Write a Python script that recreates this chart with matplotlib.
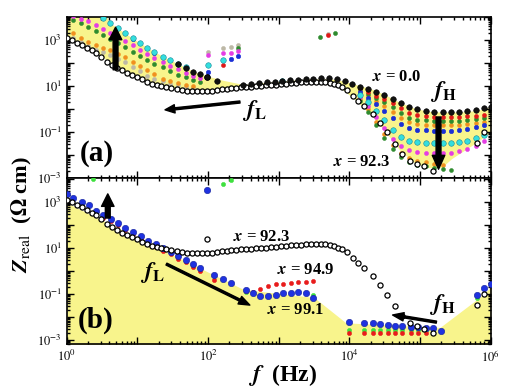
import numpy as np
import matplotlib
matplotlib.use('Agg')
import matplotlib.pyplot as plt
from matplotlib.ticker import LogLocator, FuncFormatter, NullFormatter

plt.rcParams['font.family'] = ['Liberation Serif', 'DejaVu Serif']
plt.rcParams['mathtext.fontset'] = 'stix'

# all values are log10(f / Hz) and log10(Z_real / Ohm cm)

# x = 92.3 (open circles, same in both panels)
lf_open = [0.00, 0.07, 0.14, 0.21, 0.28, 0.35, 0.42, 0.49, 0.57, 0.64, 0.71, 0.78, 0.85, 0.92, 0.99,
           1.06, 1.13, 1.20, 1.27, 1.34, 1.41, 1.48, 1.56, 1.63, 1.70, 1.77, 1.84, 1.91, 1.98, 2.05,
           2.12, 2.19, 2.26, 2.33, 2.40, 2.47, 2.54, 2.61, 2.68, 2.75, 2.82, 2.89, 2.96, 3.03, 3.10,
           3.17, 3.24, 3.31, 3.38, 3.45, 3.52, 3.59, 3.66, 3.72, 3.78, 3.84, 3.90, 3.96, 4.05, 4.12,
           4.21, 4.33, 4.43, 4.53, 4.64, 4.74, 4.85, 4.95, 5.05, 5.18, 5.81, 5.91, 1.99]
lz_open = [3.09, 2.98, 2.87, 2.76, 2.65, 2.54, 2.43, 2.24, 2.04, 1.91, 1.78, 1.67, 1.57, 1.48, 1.39,
           1.28, 1.17, 1.10, 1.04, 1.00, 0.96, 0.91, 0.87, 0.82, 0.78, 0.77, 0.77, 0.77, 0.78, 0.80,
           0.83, 0.85, 0.88, 0.91, 0.92, 0.94, 0.95, 0.96, 0.98, 1.00, 1.02, 1.04, 1.06, 1.08, 1.10,
           1.12, 1.13, 1.15, 1.16, 1.17, 1.18, 1.18, 1.17, 1.13, 1.08, 1.02, 0.94, 0.83, 0.58, 0.36,
           0.13, -0.22, -0.61, -1.02, -1.52, -1.96, -2.26, -2.40, -2.50, -2.70, -1.48, -1.00, 1.37]

# panel (a), x = 0.0 (black spheres)
lf_black = [1.57, 1.68, 1.78, 1.88, 1.99, 2.12,
            2.50, 2.61, 2.72, 2.83, 2.94, 3.05, 3.16, 3.27, 3.38, 3.49, 3.60, 3.71,
            3.82, 3.93, 4.04, 4.15, 4.26, 4.38, 4.49, 4.61, 4.73, 4.84, 4.96, 5.08,
            5.20, 5.32, 5.43, 5.55, 5.67, 5.79, 5.91, 6.00]
lz_black = [1.96, 1.78, 1.61, 1.52, 1.40, 1.22,
            1.04, 1.08, 1.12, 1.15, 1.18, 1.21, 1.24, 1.27, 1.30, 1.32, 1.34, 1.33,
            1.28, 1.20, 1.08, 0.97, 0.86, 0.74, 0.60, 0.42, 0.24, 0.07, -0.02, -0.08,
            -0.12, -0.13, -0.13, -0.13, -0.11, -0.06, 0.02, 0.08]

# panel (a), intermediate compositions
lf_hf = [4.15, 4.26, 4.38, 4.49, 4.61, 4.73, 4.84, 4.96, 5.08, 5.20, 5.32, 5.43, 5.55, 5.67, 5.79, 5.91]

lf_cyan = [0.51, 0.61, 0.72, 0.82, 0.93, 1.03, 1.14, 1.24, 1.36, 1.46, 1.57, 1.68, 2.00, 2.21, 3.05] + lf_hf
lz_cyan = [3.95, 3.74, 3.52, 3.30, 3.09, 2.87, 2.65, 2.47, 2.27, 2.12, 1.97, 1.80, 1.91, 2.13, 1.20,
           0.62, 0.30, -0.08, -0.50, -0.90, -1.20, -1.38, -1.45, -1.48, -1.49, -1.49, -1.48, -1.45, -1.38, -1.28, -1.12]

lf_blue = [0.93, 1.24, 2.00, 2.32, 2.42] + lf_hf
lz_blue = [3.04, 2.42, 1.61, 2.17, 2.30,
           0.72, 0.46, 0.20, -0.10, -0.40, -0.66, -0.82, -0.90, -0.93, -0.95, -0.95, -0.95, -0.93, -0.88, -0.80, -0.70]

lf_magenta = [0.09, 0.20, 0.30, 0.41, 0.51, 0.61, 0.72, 0.82, 0.93, 1.03, 1.14, 1.24, 1.36, 1.46, 1.57,
              1.68, 1.78, 1.88, 2.00, 2.21, 2.32, 2.42] + lf_hf
lz_magenta = [4.05, 3.92, 3.80, 3.65, 3.48, 3.32, 3.14, 2.95, 2.76, 2.58, 2.38, 2.20, 2.02, 1.86, 1.72,
              1.58, 1.45, 1.36, 2.35, 2.43, 2.43, 2.52,
              0.52, 0.14, -0.35, -0.85, -1.30, -1.62, -1.80, -1.88, -1.91, -1.92, -1.92, -1.90, -1.84, -1.74, -1.60, -1.40]

lf_green = [0.09, 0.20, 0.30, 0.41, 0.51, 0.61, 0.72, 0.82, 0.93, 1.03, 1.14, 1.24, 1.36, 1.46, 1.57,
            1.68, 1.78, 1.88, 2.42, 2.72, 2.94, 3.38, 3.58, 3.79] + lf_hf
lz_green = [3.87, 3.72, 3.57, 3.40, 3.22, 3.05, 2.87, 2.68, 2.48, 2.30, 2.12, 1.97, 1.80, 1.65, 1.48,
            1.37, 1.26, 1.17, 2.65, 1.11, 1.17, 1.29, 3.13, 3.30,
            0.85, 0.66, 0.48, 0.28, 0.08, -0.18, -0.38, -0.46, -0.50, -0.52, -0.52, -0.52, -0.51, -0.49, -0.45, -0.40]

lf_orange = [0.09, 0.20, 0.30, 0.41, 0.51, 0.61, 0.72, 0.82, 0.93, 1.03, 1.14, 1.24, 1.36, 1.46, 1.57,
             1.68, 1.78] + lf_hf
lz_orange = [3.30, 3.08, 2.89, 2.76, 2.66, 2.57, 2.40, 2.25, 2.05, 1.85, 1.67, 1.50, 1.32, 1.20, 1.12,
             1.05, 1.00,
             0.80, 0.58, 0.36, 0.12, -0.12, -0.40, -0.58, -0.65, -0.68, -0.70, -0.70, -0.70, -0.69, -0.66, -0.62, -0.56]

lf_gray = [0.09, 0.20, 0.30, 0.41, 0.51, 0.61, 0.72, 0.82, 0.93, 1.03, 1.14, 1.24, 1.36, 1.46, 1.57,
           1.68, 1.78, 2.00, 2.21, 2.32, 2.42, 2.61, 2.83, 3.27, 3.49, 3.69]
lz_gray = [3.09, 2.92, 2.72, 2.58, 2.46, 2.35, 2.18, 2.02, 1.82, 1.63, 1.45, 1.30, 1.20, 1.10, 1.03,
           0.97, 0.93, 2.48, 2.65, 2.70, 2.78, 1.06, 1.13, 1.25, 1.30, 3.26]

lf_red = [2.21, 3.69] + lf_hf
lz_red = [1.91, 3.22,
          0.90, 0.74, 0.58, 0.42, 0.25, 0.02, -0.18, -0.27, -0.31, -0.33, -0.33, -0.33, -0.33, -0.32, -0.29, -0.25]

lf_orange2 = [4.15, 4.26, 4.38, 4.49, 4.61, 4.73, 4.84, 4.96, 5.08, 5.20, 5.32]
lz_orange2 = [0.42, 0.00, -0.55, -1.10, -1.55, -1.90, -2.12, -2.25, -2.32, -2.38, -2.42]
lf_green2 = [4.15, 4.26, 4.38, 4.49, 4.61, 4.73, 4.84, 4.96, 5.08, 5.20, 5.32, 5.43]
lz_green2 = [0.34, -0.12, -0.70, -1.25, -1.72, -2.08, -2.30, -2.42, -2.50, -2.55, -2.60, -2.65]

# panel (a) shaded region
lf_fill_a = [0.00, 0.50, 0.60, 0.80, 1.00, 1.20, 1.40, 1.60, 1.80, 2.00, 2.20, 2.50, 2.80, 3.10, 3.40,
             3.75, 3.90, 4.10, 4.30, 4.50, 4.70, 4.90, 5.10, 5.30, 5.45, 5.60, 5.80, 6.00]
lz_fill_a_top = [4.5, 4.5, 3.76, 3.34, 2.93, 2.55, 2.22, 1.92, 1.62, 1.42, 1.25, 1.06, 1.14, 1.22, 1.30,
                 1.30, 1.22, 1.05, 0.88, 0.62, 0.30, 0.05, -0.10, -0.14, -0.14, -0.13, -0.07, 0.08]
lz_fill_a_bot = [3.09, 2.30, 2.00, 1.65, 1.38, 1.10, 0.97, 0.85, 0.77, 0.78, 0.85, 0.95, 1.02, 1.11, 1.16,
                 1.15, 0.85, 0.35, -0.25, -0.95, -1.75, -2.30, -2.55, -2.55, -2.15, -1.85, -1.45, -1.00]

# panel (b), x = 99.1 (blue), x = 94.9 (red), green
lf_b_blue = [0.00, 0.09, 0.21, 0.31, 0.42, 0.51, 0.62, 0.72, 0.83, 0.93, 1.05, 1.15, 1.26, 1.36, 1.47,
             1.57, 1.68, 1.78, 1.88, 2.09, 2.21, 2.32, 2.53, 2.63, 2.74, 2.85, 2.96, 3.06, 3.17, 3.27,
             3.38, 3.48, 4.00, 4.21, 4.33, 4.43, 4.54, 4.64, 4.75, 4.87, 4.97, 5.08, 5.18, 5.29, 5.80,
             5.91, 6.00, 1.99]
lz_b_blue = [3.35, 3.17, 3.00, 2.87, 2.61, 2.43, 2.26, 2.09, 1.87, 1.70, 1.52, 1.30, 1.17, 1.00, 0.83,
             0.65, 0.48, 0.30, 0.13, -0.17, -0.35, -0.52, -0.83, -0.96, -1.09, -1.09, -1.04, -0.96, -0.96, -0.91,
             -0.96, -1.17, -2.22, -2.26, -2.26, -2.30, -2.35, -2.39, -2.39, -2.43, -2.43, -2.48, -2.48, -2.61, -1.04,
             -0.74, -0.57, 3.52]

lf_b_red = [0.42, 0.51, 0.62, 0.72, 0.83, 0.93, 1.05, 1.15, 1.26, 1.36, 1.47, 1.57, 1.68, 1.78, 1.88,
            2.09, 2.53, 2.63, 2.74, 2.85, 2.96, 3.06, 3.17, 3.27, 3.38, 3.48,
            4.00, 4.21, 4.33, 4.43, 4.54, 4.64, 4.75, 4.87, 4.97, 5.08]
lz_b_red = [2.50, 2.32, 2.15, 1.98, 1.76, 1.59, 1.41, 1.19, 1.06, 0.89, 0.72, 0.54, 0.37, 0.19, 0.02,
            -0.39, -0.87, -0.90, -0.80, -0.65, -0.57, -0.55, -0.52, -0.49, -0.47, -0.43,
            -2.70, -2.70, -2.70, -2.70, -2.70, -2.70, -2.70, -2.70, -2.70, -2.70]

lf_b_green = [0.37, 2.21, 2.32, 2.53, 3.48, 4.00, 4.21, 4.33, 4.43, 4.54, 4.64, 4.75, 4.87, 4.97, 5.08,
              5.18, 5.80]
lz_b_green = [4.00, 3.78, 3.96, -0.92, -1.05, -2.57, -2.57, -2.57, -2.57, -2.57, -2.57, -2.57, -2.57, -2.57, -2.57,
              -2.60, -1.17]

lf_fill_b = [0.00, 2.50, 3.50, 3.95, 5.28, 5.84, 6.00]
lz_fill_b = [2.96, -0.80, -1.15, -2.25, -2.45, -1.15, -0.70]

yellow = '#f8f48c'


def p(v):
    return 10 ** np.array(v, dtype=float)


def dots(ax, lf, lz, color, size, edge=None, z=3):
    ax.plot(p(lf), p(lz), 'o', ls='none', ms=size, mfc=color,
            mec=edge if edge else color, mew=0.4, zorder=z)


def decade_label(parity, lo, hi):
    def f(v, pos):
        e = int(round(np.log10(v)))
        if e < lo or e > hi or e % 2 != parity:
            return ''
        return r'$10^{%d}$' % e
    return FuncFormatter(f)


def style(ax, ylo, yhi):
    ax.set_xscale('log')
    ax.set_yscale('log')
    ax.set_xlim(1, 1e6)
    ax.set_ylim(ylo, yhi)
    ax.xaxis.set_major_locator(LogLocator(base=10, numticks=20))
    ax.xaxis.set_minor_locator(LogLocator(base=10, subs=np.arange(2, 10), numticks=20))
    ax.yaxis.set_major_locator(LogLocator(base=10, numticks=20))
    ax.yaxis.set_minor_locator(LogLocator(base=10, subs=np.arange(2, 10), numticks=20))
    ax.xaxis.set_minor_formatter(NullFormatter())
    ax.yaxis.set_minor_formatter(NullFormatter())
    ax.yaxis.set_major_formatter(decade_label(1, -3, 3))
    ax.tick_params(which='both', direction='in', top=True, right=True, labelsize=9, width=1)
    ax.tick_params(which='major', length=5)
    ax.tick_params(which='minor', length=2.5)
    for s in ax.spines.values():
        s.set_linewidth(1.2)


fig = plt.figure(figsize=(5.06, 3.92), dpi=100)
ax1 = fig.add_axes([0.132, 0.546, 0.838, 0.411])
ax2 = fig.add_axes([0.132, 0.1224, 0.838, 0.4236])

# ---- panel (a)
ax1.fill_between(p(lf_fill_a), p(lz_fill_a_bot), p(lz_fill_a_top), color=yellow, lw=0, zorder=1)
dots(ax1, lf_gray, lz_gray, '#bdb8a6', 2.9)
dots(ax1, lf_orange, lz_orange, '#f0901e', 2.8)
dots(ax1, lf_orange2, lz_orange2, '#f0901e', 2.8)
dots(ax1, lf_green2, lz_green2, '#2e8b2e', 2.8)
dots(ax1, lf_green, lz_green, '#2e8b2e', 2.9)
dots(ax1, lf_magenta, lz_magenta, '#e43ce4', 2.9)
dots(ax1, lf_red, lz_red, '#e01818', 2.9)
dots(ax1, lf_blue, lz_blue, '#1a2fd6', 3.2)
dots(ax1, lf_cyan, lz_cyan, '#33dede', 4.0, edge='#1a8a9a')
ax1.plot(p(lf_open), p(lz_open), 'o', ls='none', ms=3.7, mfc='white', mec='black', mew=0.9, zorder=4)
dots(ax1, lf_black, lz_black, '#111111', 4.0, edge='black', z=5)
style(ax1, 1e-3, 1e4)
ax1.tick_params(labelbottom=False)

ax1.annotate('', xy=(10 ** 0.69, 10 ** 3.55), xytext=(10 ** 0.69, 10 ** 1.70),
             arrowprops=dict(width=3.5, headwidth=9, headlength=9, color='black', shrink=0), zorder=6)
ax1.annotate('', xy=(10 ** 1.39, 10 ** -0.04), xytext=(10 ** 2.45, 10 ** 0.30),
             arrowprops=dict(width=1.5, headwidth=6, headlength=7, color='black', shrink=0), zorder=6)
ax1.annotate('', xy=(10 ** 5.26, 10 ** -2.62), xytext=(10 ** 5.26, 10 ** -0.35),
             arrowprops=dict(width=3.5, headwidth=9, headlength=10, color='black', shrink=0), zorder=6)
ax1.text(10 ** 2.48, 10 ** -0.05, r'$\mathbfit{f}_{\mathbf{L}}$', fontsize=17, ha='left', va='center', zorder=7)
ax1.text(10 ** 5.14, 10 ** 0.75, r'$\mathbfit{f}_{\mathbf{H}}$', fontsize=17, ha='left', va='center', zorder=7)
ax1.text(10 ** 4.32, 10 ** 1.40, r'$\mathbfit{x}$ = 0.0', fontsize=12, fontweight='bold', ha='left', va='center', zorder=7)
ax1.text(10 ** 3.76, 10 ** -2.30, r'$\mathbfit{x}$ = 92.3', fontsize=12, fontweight='bold', ha='left', va='center', zorder=7)
ax1.text(0.071, 0.15, '(a)', transform=ax1.transAxes, fontsize=21, fontweight='bold', ha='center', va='center')

# ---- panel (b)
ax2.fill_between(p(lf_fill_b), 1e-4, p(lz_fill_b), color=yellow, lw=0, zorder=1)
dots(ax2, lf_b_green, lz_b_green, '#3fe03f', 3.0)
dots(ax2, lf_b_red, lz_b_red, '#e81c1c', 3.0)
dots(ax2, lf_b_blue, lz_b_blue, '#1f32e0', 4.6, edge='#12209a')
ax2.plot(p(lf_open), p(lz_open), 'o', ls='none', ms=3.7, mfc='white', mec='black', mew=0.9, zorder=4)
style(ax2, 10 ** -3.17, 10 ** 4.04)
ax2.xaxis.set_major_formatter(decade_label(0, 0, 6))

ax2.annotate('', xy=(10 ** 0.58, 10 ** 3.35), xytext=(10 ** 0.58, 10 ** 2.30),
             arrowprops=dict(width=3.5, headwidth=9, headlength=9, color='black', shrink=0), zorder=6)
ax2.annotate('', xy=(10 ** 2.59, 10 ** -1.48), xytext=(10 ** 1.41, 10 ** 0.30),
             arrowprops=dict(width=1.5, headwidth=6, headlength=8, color='black', shrink=0), zorder=6)
ax2.annotate('', xy=(10 ** 4.61, 10 ** -1.91), xytext=(10 ** 5.23, 10 ** -2.22),
             arrowprops=dict(width=1.5, headwidth=6, headlength=8, color='black', shrink=0), zorder=6)
ax2.text(10 ** 1.03, 10 ** -0.05, r'$\mathbfit{f}_{\mathbf{L}}$', fontsize=17, ha='left', va='center', zorder=7)
ax2.text(10 ** 5.12, 10 ** -1.45, r'$\mathbfit{f}_{\mathbf{H}}$', fontsize=17, ha='left', va='center', zorder=7)
ax2.text(10 ** 2.35, 10 ** 1.48, r'$\mathbfit{x}$ = 92.3', fontsize=12, fontweight='bold', ha='left', va='center', zorder=7)
ax2.text(10 ** 2.97, 10 ** 0.04, r'$\mathbfit{x}$ = 94.9', fontsize=12, fontweight='bold', ha='left', va='center', zorder=7)
ax2.text(10 ** 2.84, 10 ** -1.70, r'$\mathbfit{x}$ = 99.1', fontsize=12, fontweight='bold', ha='left', va='center', zorder=7)
ax2.text(0.068, 0.145, '(b)', transform=ax2.transAxes, fontsize=21, fontweight='bold', ha='center', va='center')

fig.text(22 / 506, 1 - 215 / 392, r'$\mathbfit{Z}_{\mathrm{real}}$  ($\mathbf{\Omega}$ cm)', rotation=90,
         fontsize=16, fontweight='bold', ha='center', va='center')
fig.text(283 / 506, 1 - 375 / 392, r'$\mathbfit{f}$  (Hz)', fontsize=17, fontweight='bold', ha='center', va='center')

fig.savefig('out.png', dpi=100)
